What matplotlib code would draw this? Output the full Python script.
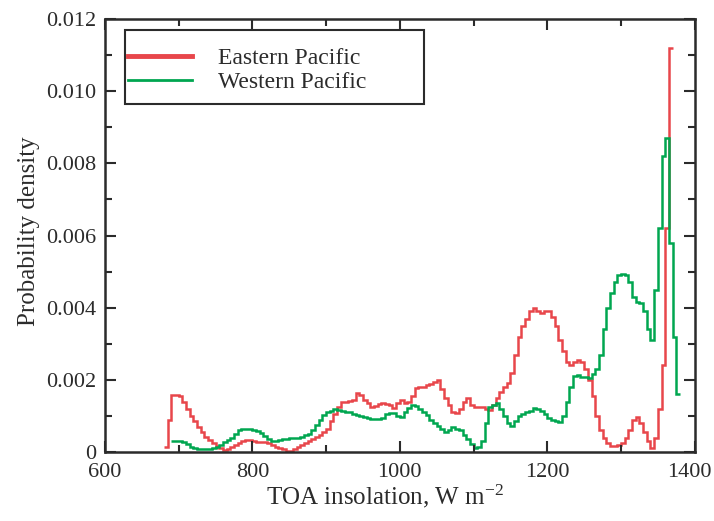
import numpy as np
from matplotlib import pyplot as plt
from matplotlib.lines import Line2D
from matplotlib.patches import Rectangle
from matplotlib.transforms import ScaledTranslation

plt.rcParams['font.family'] = ['Liberation Serif', 'DejaVu Serif']
plt.rcParams['mathtext.fontset'] = 'custom'
plt.rcParams['mathtext.rm'] = 'Liberation Serif'
plt.rcParams['mathtext.it'] = 'Liberation Serif:italic'

# histogram bins, 5 W m-2 wide
east_start = 680
east_density = [
    0.00015, 0.0009, 0.00158, 0.00158, 0.00155, 0.0014, 0.00118, 0.001, 0.00085, 0.00068,
    0.00055, 0.00043, 0.00032, 0.00024, 0.00016, 0.0001, 0.00006, 0.00008, 0.00014, 0.0002,
    0.00025, 0.0003, 0.00033, 0.00033, 0.0003, 0.00029, 0.00029, 0.00027, 0.00025, 0.0002,
    0.00014, 0.0001, 0.00007, 0.00004, 0.00004, 0.00008, 0.00014, 0.0002, 0.00026, 0.0003,
    0.00036, 0.00041, 0.00046, 0.00055, 0.00065, 0.00085, 0.00105, 0.00125, 0.00139, 0.0014,
    0.00142, 0.00145, 0.00163, 0.00158, 0.00145, 0.00135, 0.00125, 0.00127, 0.00133, 0.00136,
    0.00133, 0.0013, 0.00122, 0.00135, 0.00144, 0.00136, 0.00138, 0.00155, 0.00178, 0.0018,
    0.0018, 0.00186, 0.00188, 0.00195, 0.002, 0.00175, 0.0015, 0.0013, 0.00112, 0.00108,
    0.0012, 0.0014, 0.0015, 0.0013, 0.00125, 0.00125, 0.00125, 0.0012, 0.00117, 0.0013,
    0.0015, 0.00165, 0.0018, 0.0019, 0.0022, 0.0027, 0.0032, 0.0035, 0.0037, 0.0039,
    0.004, 0.0039, 0.00385, 0.0039, 0.0039, 0.00375, 0.0035, 0.0031, 0.0028, 0.0025,
    0.0024, 0.0025, 0.00256, 0.0025, 0.0023, 0.002, 0.00155, 0.001, 0.0006, 0.0004,
    0.00025, 0.00018, 0.00017, 0.0002, 0.00025, 0.0004, 0.0006, 0.0009, 0.00097, 0.0008,
    0.00055, 0.0003, 0.00011, 0.0004, 0.0012, 0.0024, 0.0062, 0.0112,
]

west_start = 690
west_density = [
    0.0003, 0.0003, 0.0003, 0.00028, 0.00022, 0.00015, 0.0001, 0.00008, 0.00008, 0.00008,
    0.00008, 0.0001, 0.00014, 0.0002, 0.00028, 0.00033, 0.00039, 0.0005, 0.00061, 0.00063,
    0.00063, 0.00063, 0.00061, 0.00058, 0.00053, 0.00045, 0.00036, 0.0003, 0.0003, 0.00033,
    0.00035, 0.00036, 0.00038, 0.00039, 0.0004, 0.00042, 0.00046, 0.0005, 0.0006, 0.00075,
    0.0009, 0.00102, 0.0011, 0.00115, 0.00118, 0.00116, 0.00114, 0.00112, 0.0011, 0.00106,
    0.00103, 0.001, 0.00097, 0.00095, 0.00092, 0.00092, 0.00092, 0.00095, 0.00105, 0.00108,
    0.00108, 0.001, 0.00097, 0.0011, 0.00122, 0.0013, 0.00128, 0.0012, 0.00112, 0.00103,
    0.0009, 0.0008, 0.00073, 0.00065, 0.00055, 0.0006, 0.0007, 0.00065, 0.0006, 0.00048,
    0.00035, 0.00022, 0.0001, 0.00015, 0.0003, 0.0008, 0.00125, 0.0013, 0.00136, 0.0012,
    0.001, 0.0008, 0.00072, 0.00085, 0.001, 0.00105, 0.00111, 0.00115, 0.00122, 0.0012,
    0.00115, 0.00105, 0.00095, 0.0009, 0.00086, 0.00083, 0.001, 0.0014, 0.0018, 0.0021,
    0.00214, 0.00208, 0.00208, 0.00206, 0.00215, 0.0023, 0.0027, 0.0034, 0.004, 0.0044,
    0.0047, 0.0049, 0.00494, 0.0049, 0.0047, 0.0043, 0.00416, 0.00414, 0.0039, 0.0034,
    0.0031, 0.0045, 0.0062, 0.0082, 0.0087, 0.0058, 0.0032, 0.0016,
]
bin_width = 5

red = '#e8464b'
green = '#00a650'
dark = '#2b2b2b'

fig = plt.figure(figsize=(7.14, 5.21), dpi=100)
ax = fig.add_axes([0.147, 0.1324, 0.826, 0.8311])

east_edges = east_start + bin_width * np.arange(len(east_density) + 1)
west_edges = west_start + bin_width * np.arange(len(west_density) + 1)
ax.stairs(east_density, east_edges, baseline=None, color=red, lw=1.8)
ax.stairs(west_density, west_edges, baseline=None, color=green, lw=1.8)

ax.set_xlim(600, 1400)
ax.set_ylim(0, 0.012)
ax.set_xticks([600, 800, 1000, 1200, 1400])
ax.set_xticks(np.arange(700, 1400, 200), minor=True)
ax.set_yticks(np.arange(0, 0.0121, 0.002))
ax.set_yticklabels(['0', '0.002', '0.004', '0.006', '0.008', '0.010', '0.012'])
ax.set_yticks(np.arange(0.001, 0.012, 0.002), minor=True)
ax.tick_params(which='both', direction='in', top=True, right=True,
               colors=dark, labelsize=16, width=1.5)
ax.tick_params(which='major', length=8, pad=6)
ax.tick_params(axis='x', which='major', pad=8)
ax.tick_params(which='minor', length=5)
for s in ax.spines.values():
    s.set_linewidth(1.8)
    s.set_color(dark)
# keep the last x label inside the picture
last = ax.get_xticklabels()[-1]
last.set_transform(last.get_transform() + ScaledTranslation(-4 / 72, 0, fig.dpi_scale_trans))

ax.set_xlabel('TOA insolation, W m$^{\u22122}$', fontsize=18, color=dark, labelpad=0)
ax.xaxis.label.set_x(0.475)
ax.set_ylabel('Probability density', fontsize=18, color=dark, labelpad=5)
ax.yaxis.label.set_y(0.51)

# legend box drawn separately so it can be wider than its text
ax.add_patch(Rectangle((0.034, 0.804), 0.507, 0.171, transform=ax.transAxes,
                       fill=True, facecolor='white', edgecolor=dark, lw=1.5, zorder=4))
handles = [Line2D([], [], color=red, lw=3.5), Line2D([], [], color=green, lw=2)]
leg = ax.legend(handles, ['Eastern Pacific', 'Western Pacific'],
                loc='upper left', bbox_to_anchor=(0.039, 0.934),
                fontsize=17, handlelength=2.7, handletextpad=1.1,
                labelspacing=0.1, borderpad=0, frameon=False, borderaxespad=0)
leg.set_zorder(5)
for t in leg.get_texts():
    t.set_color(dark)

fig.savefig('out.png', dpi=100)
